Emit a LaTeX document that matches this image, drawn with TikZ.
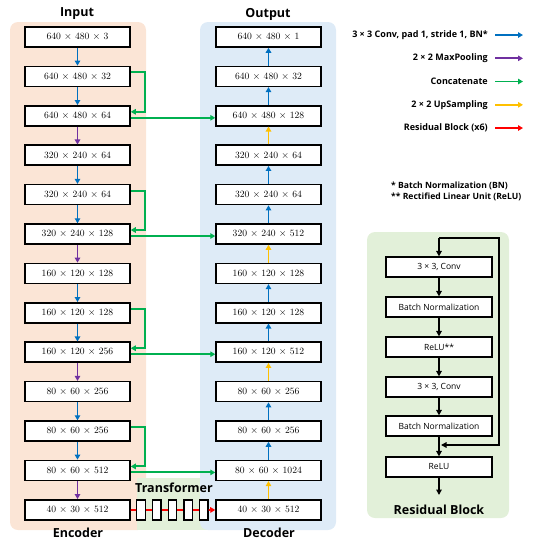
\documentclass[tikz,border=0pt]{standalone}
\usepackage{fontspec}
\setsansfont{Open Sans}
\usetikzlibrary{arrows.meta, positioning, calc}
\definecolor{encpeach}{RGB}{251,229,214}
\definecolor{decblue}{RGB}{222,235,247}
\definecolor{resgreen}{RGB}{226,240,217}
\definecolor{convblue}{RGB}{0,112,192}
\definecolor{poolpurple}{RGB}{112,48,160}
\definecolor{catgreen}{RGB}{0,176,80}
\definecolor{upyellow}{RGB}{255,192,0}
\definecolor{resred}{RGB}{255,0,0}

\begin{document}
\begin{tikzpicture}[x=1pt, y=-1pt,
  fmap/.style={draw, line width=1.5pt, fill=white, minimum width=105pt, minimum height=20pt, inner sep=0pt, font=\fontsize{9.6}{10}\selectfont},
  rbox/.style={draw, line width=1.2pt, fill=white, minimum width=106pt, minimum height=20pt, inner sep=0pt, font=\sffamily\fontsize{8.5}{9}\selectfont},
  tblock/.style={draw, line width=1.3pt, fill=white, minimum width=8.5pt, minimum height=20pt, inner sep=0pt},
  title/.style={font=\sffamily\bfseries\fontsize{12.5}{14}\selectfont},
  legend/.style={inner sep=0pt, font=\sffamily\bfseries\fontsize{9}{10}\selectfont},
  note/.style={inner sep=0pt, anchor=west, font=\sffamily\bfseries\fontsize{8.6}{10}\selectfont},
  arr/.style={line width=1.9pt, -{Triangle[length=5pt,width=5.5pt]}},
  conv/.style={arr, convblue},
  pool/.style={arr, poolpurple},
  cat/.style={arr, catgreen},
  up/.style={arr, upyellow},
  res/.style={arr, resred},
  blk/.style={line width=1.4pt, -{Triangle[length=5.5pt,width=5.5pt]}},
]
  \useasboundingbox (0,0) rectangle (534,550);

  % backgrounds
  \fill[encpeach, rounded corners=8pt] (10,22) rectangle (146,530);
  \fill[resgreen] (137,478) rectangle (212,530);
  \fill[decblue, rounded corners=8pt] (200,22) rectangle (336,530);
  \fill[resgreen, rounded corners=8pt] (367,232) rectangle (509,518);

  % encoder / decoder feature maps
  \foreach \a/\b/\c [count=\i from 0] in {640/480/3, 640/480/32, 640/480/64, 320/240/64, 320/240/64, 320/240/128,
      160/120/128, 160/120/128, 160/120/256, 80/60/256, 80/60/256, 80/60/512, 40/30/512}
    \node[fmap] (e\i) at (77.5, 37+39.4*\i) {\a{} $\times$ \b{} $\times$ \c};
  \foreach \a/\b/\c [count=\i from 0] in {640/480/1, 640/480/32, 640/480/128, 320/240/64, 320/240/64, 320/240/512,
      160/120/128, 160/120/128, 160/120/512, 80/60/256, 80/60/256, 80/60/1024, 40/30/512}
    \node[fmap] (d\i) at (268.5, 37+39.4*\i) {\a{} $\times$ \b{} $\times$ \c};

  \node[title] (input) at (77,14) {Input};
  \node[title] (output) at (268,14) {Output};
  \node[title] (encoder) at (78,533) {Encoder};
  \node[title] (decoder) at (269,533) {Decoder};
  \node[title] (transformer) at (174,488) {Transformer};

  \foreach \i/\j/\s in {0/1/conv, 1/2/conv, 2/3/pool, 3/4/conv, 4/5/conv, 5/6/pool,
      6/7/conv, 7/8/conv, 8/9/pool, 9/10/conv, 10/11/conv, 11/12/pool}
    \draw[\s] (e\i) -- (e\j);
  \foreach \i/\j/\s in {12/11/up, 11/10/conv, 10/9/conv, 9/8/up, 8/7/conv, 7/6/conv,
      6/5/up, 5/4/conv, 4/3/conv, 3/2/up, 2/1/conv, 1/0/conv}
    \draw[\s] (d\i) -- (d\j);

  % concatenate
  \foreach \i/\j in {1/2, 4/5, 7/8, 10/11} {
    \draw[cat] ([yshift=4pt]e\i.east) -- ++(14,0) |- ([yshift=4pt]e\j.east);
    \draw[cat] ([yshift=-2pt]e\j.east) -- ([yshift=-2pt]d\j.west);
  }

  % transformer
  \foreach \k in {1,...,5}
    \node[tblock] (t\k) at (141+15.7*\k-15.7, 510) {};
  \draw[resred, line width=1.9pt] (e12) -- (t1);
  \foreach \k/\n in {1/2, 2/3, 3/4, 4/5}
    \draw[resred, line width=1.9pt] (t\k) -- (t\n);
  \draw[res] (t5) -- (d12);

  % legend
  \node[legend, anchor=east] (lg1) at (488,35) {3 × 3 Conv, pad 1, stride 1, BN*};
  \node[legend, anchor=east] (lg2) at (488,58.3) {2 × 2 MaxPooling};
  \node[legend, anchor=east] (lg3) at (488,81.5) {Concatenate};
  \node[legend, anchor=east] (lg4) at (488,104.8) {2 × 2 UpSampling};
  \node[legend, anchor=east] (lg5) at (488,128) {Residual Block (x6)};
  \foreach \k/\s in {1/conv, 2/pool, 3/cat, 4/up, 5/res}
    \draw[\s] ([xshift=7pt]lg\k.east) -- ++(28,0);
  \node[note] (fn1) at (391,186) {* Batch Normalization (BN)};
  \node[note] (fn2) at (391,197) {** Rectified Linear Unit (ReLU)};

  % residual block
  \node[rbox] (rb1) at (439,267) {3 × 3, Conv};
  \node[rbox] (rb2) at (439,307) {Batch Normalization};
  \node[rbox] (rb3) at (439,347) {ReLU**};
  \node[rbox] (rb4) at (439,387) {3 × 3, Conv};
  \node[rbox] (rb5) at (439,426) {Batch Normalization};
  \node[rbox] (rb6) at (439,467) {ReLU};
  \node[title] (rbtitle) at (439,510) {Residual Block};
  \coordinate (rin) at (439,238);
  \coordinate (rjoin) at (439,445);
  \coordinate (rout) at (439,495);
  \draw[blk] (rin) -- (rb1);
  \foreach \k/\n in {1/2, 2/3, 3/4, 4/5, 5/6}
    \draw[blk] (rb\k) -- (rb\n);
  \draw[blk] (rb6) -- (rout);
  \draw[blk] (rin) -- ++(60,0) |- ([xshift=2pt]rjoin);
\end{tikzpicture}
\end{document}
